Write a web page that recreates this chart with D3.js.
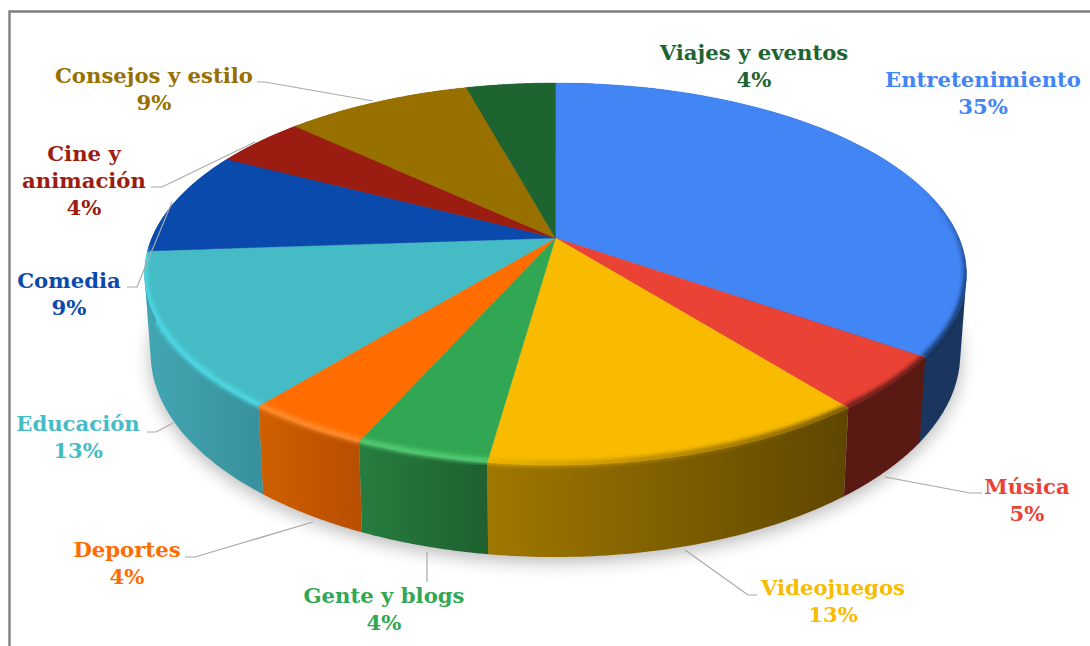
<!DOCTYPE html>
<html><head><meta charset="utf-8">
<script src="https://cdn.jsdelivr.net/npm/d3@7/dist/d3.min.js"></script>
<style>html,body{margin:0;padding:0;background:#fff;overflow:hidden}svg{display:block}</style>
</head><body><svg id="c" width="1090" height="646"></svg>
<script>
const categories=["Entretenimiento","Música","Videojuegos","Gente y blogs","Deportes","Educación","Comedia","Cine y animación","Consejos y estilo","Viajes y eventos"];
const values=[34.8,4.6,12.8,4.4,4.2,13.1,8.8,4.3,8.8,4.2];
const colors=["#4285f4","#ea4335","#f8bb00","#32a753","#ff6d01","#45bcc5","#0b4aad","#9b1c10","#977000","#1e6431"];
const wallLeft=["#1a365f","#5a1a14","#a07800","#267d3f","#cf6000","#42a6b2","#0a3a85","#7a160c","#775800","#174e26"];
const wallRight=["#1a365f","#5a1a14","#5f4600","#1f6030","#b84e00","#38919c","#0a3a85","#7a160c","#775800","#174e26"];
const rimStart=["#14305c","#5a1a14","#5f4600","#55cf75","#ff8f33","#4fdbe6","#0b4aad","#9b1c10","#977000","#1e6431"];
const rimEnd=["#14305c","#5a1a14","#e8b000","#55cf75","#ff8f33","#4fdbe6","#0b4aad","#9b1c10","#977000","#1e6431"];
const labelLines=[["Entretenimiento"],["Música"],["Videojuegos"],["Gente y blogs"],["Deportes"],["Educación"],["Comedia"],["Cine y","animación"],["Consejos y estilo"],["Viajes y eventos"]];
const labelAnchors=[[983,87],[1027,494],[833,595],[384,603],[127,557],[78,431],[69,288],[84,161],[154,83],[754,60]];
const leaders=[null,[[885,477],[970,493],[982,493]],[[685,550],[748,595],[757,595]],[[427,552],[427,582]],[[313,522],[195,557],[185,557]],[[173,423],[156,432],[147,432]],[[172,202],[137,287],[127,287]],[[255,142],[162,187],[151,187]],[[373,101],[265,82],[257,82]],null];
const paintOrder=[0,6,7,8,9,1,2,3,4,5];
const hullWalls=[0,5];

const FONT="'DejaVu Serif',serif";
const svg=d3.select("#c");
const defs=svg.append("defs");
[["blur2",2.2],["blur9",9]].forEach(([id,s])=>defs.append("filter").attr("id",id).attr("x","-20%").attr("y","-20%").attr("width","140%").attr("height","140%").append("feGaussianBlur").attr("stdDeviation",s));

svg.append("path").attr("d","M9.5 646V11.5H1090").attr("fill","none").attr("stroke","#808080").attr("stroke-width",2.4);

const pie=d3.pie().sort(null).value(d=>d).startAngle(0).endAngle(2*Math.PI);
const arcs=pie(values);
const cx=555.5,cy=238,A=403.6,B=184.2,K=0.1885;
const upper=a=>{const u=Math.sin(a),v=-Math.cos(a),w=1-K*v;return [cx+A*u/w,cy+B*v/w];};
const SX=0.985,SY=1.065,DY=77.3;
const lower=a=>{const u=Math.sin(a),v=-Math.cos(a),w=1-K*v;return [cx+SX*A*u/w,cy+DY+SY*B*v/w];};
const sample=(a0,a1,n=60)=>d3.range(0,n+1).map(i=>d3.interpolateNumber(a0,a1)(i/n));
const line=d3.line();
const close=pts=>line(pts)+"Z";

svg.append("path").attr("d",close(sample(0,2*Math.PI,180).map(lower).map(([x,y])=>[x,y+5]))).attr("fill","#000").attr("opacity",.28).attr("filter","url(#blur9)");

const EXT=0.3; // left-hand wall wraps past the slice end, up to the rim's extreme
const ribbon=(d,i)=>{
  const s=sample(d.startAngle,d.endAngle+(i===5?EXT:0));
  return s.map(upper).concat(s.map(lower).reverse());
};
const wallPts=(d,i)=>hullWalls.includes(i)?d3.polygonHull(ribbon(d,i)):ribbon(d,i);
const wedgePts=d=>[[cx,cy]].concat(sample(d.startAngle,d.endAngle).map(upper));

arcs.forEach((d,i)=>{
  const ext=d3.extent(sample(d.startAngle,d.endAngle).map(upper),p=>p[0]);
  const g=defs.append("linearGradient").attr("id","w"+i).attr("gradientUnits","userSpaceOnUse").attr("x1",ext[0]).attr("x2",ext[1]).attr("y1",0).attr("y2",0);
  g.append("stop").attr("offset",0).attr("stop-color",wallLeft[i]);
  g.append("stop").attr("offset",1).attr("stop-color",wallRight[i]);
  const cp=defs.append("clipPath").attr("id","cl"+i);
  cp.append("path").attr("d",close(wedgePts(d)));
  cp.append("path").attr("d",close(ribbon(d,i)));
});
const ordered=paintOrder.map(i=>({d:arcs[i],i}));
svg.append("g").selectAll("path").data(ordered).join("path").attr("d",o=>close(wallPts(o.d,o.i))).attr("fill",o=>`url(#w${o.i})`);
svg.append("g").selectAll("path").data(arcs).join("path").attr("d",d=>close(wedgePts(d))).attr("fill",(d,i)=>colors[i]).attr("stroke",(d,i)=>colors[i]).attr("stroke-width",.4);

const fade=d3.scaleLinear().domain([185,290]).range([0,1]).clamp(true);
const bevel=svg.append("g");
arcs.forEach((d,i)=>{
  const col=d3.interpolateRgb(rimStart[i],rimEnd[i]);
  const as=sample(d.startAngle,d.endAngle,40);
  const g=bevel.append("g").attr("clip-path",`url(#cl${i})`).append("g").attr("filter","url(#blur2)");
  g.selectAll("path").data(d3.pairs(as)).join("path")
    .attr("d",([a,b])=>line([a,b].map(x=>{const p=upper(x);return [p[0],p[1]-1.5];})))
    .attr("fill","none").attr("stroke-width",5).attr("stroke-linecap","square")
    .attr("stroke",(p,j)=>col(j/39))
    .attr("stroke-opacity",([a])=>fade(upper(a)[1]));
});

svg.append("g").selectAll("path").data(leaders.filter(Boolean)).join("path").attr("d",d=>line(d)).attr("fill","none").attr("stroke","#a9a9a9").attr("stroke-width",1.2);

const pct=d3.format(".0f");
const tg=svg.append("g").attr("font-family",FONT).attr("font-weight",700).attr("font-size",21.2).attr("text-anchor","middle");
categories.forEach((c,i)=>{
  const [x,y]=labelAnchors[i],t=labelLines[i].concat([pct(values[i])+"%"]);
  tg.append("g").attr("fill",colors[i]).selectAll("text").data(t).join("text").attr("x",x).attr("y",(d,j)=>y+j*27).text(d=>d);
});
</script></body></html>
